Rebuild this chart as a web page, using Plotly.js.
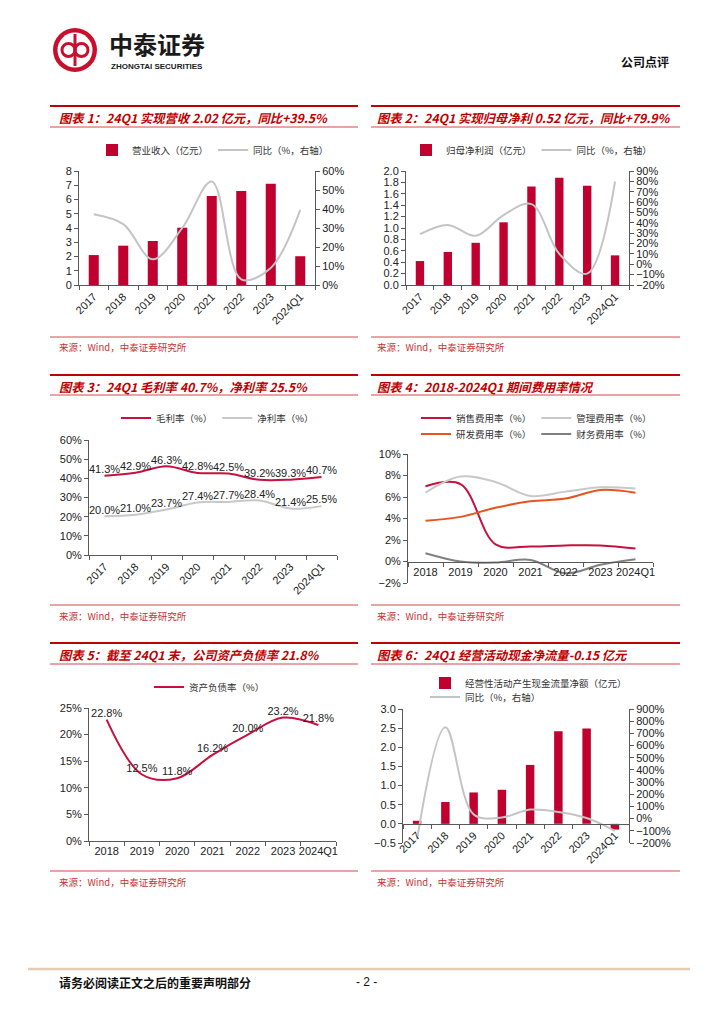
<!DOCTYPE html>
<html><head><meta charset="utf-8">
<script src="https://cdn.plot.ly/plotly-3.0.0.min.js"></script>
<style>html,body{margin:0;padding:0;background:#fff}#chart{width:724px;height:1024px}</style>
</head><body><div id="chart"></div>
<script>
// ---------- data ----------
const years8 = ['2017','2018','2019','2020','2021','2022','2023','2024Q1'];
const years7 = ['2018','2019','2020','2021','2022','2023','2024Q1'];
const revenue = [2.10, 2.76, 3.09, 4.02, 6.25, 6.60, 7.11, 2.02];
const revenueYoY = [37.2, 32.0, 13.5, 30.0, 54.5, 3.0, 9.0, 39.5];
const netProfit = [0.42, 0.58, 0.74, 1.10, 1.73, 1.88, 1.74, 0.52];
const netProfitYoY = [29.0, 38.0, 27.5, 47.5, 58.0, 10.0, -9.0, 79.9];
const grossMargin = [41.3, 42.9, 46.3, 42.8, 42.5, 39.2, 39.3, 40.7];
const grossMarginLabels = ['41.3%', '42.9%', '46.3%', '42.8%', '42.5%', '39.2%', '39.3%', '40.7%'];
const netMargin = [20.2, 21.0, 23.7, 27.4, 27.7, 28.4, 24.2, 25.5];
const netMarginLabels = ['20.0%', '21.0%', '23.7%', '27.4%', '27.7%', '28.4%', '21.4%', '25.5%'];
const salesRate = [7.0, 7.2, 1.6, 1.4, 1.5, 1.5, 1.2];
const adminRate = [6.4, 7.9, 7.4, 6.1, 6.5, 6.9, 6.8];
const rdRate = [3.8, 4.15, 5.0, 5.6, 5.85, 6.65, 6.4];
const finRate = [0.77, 0.0, -0.1, 0.15, -1.1, -0.3, 0.2];
const debtRatio = [22.8, 12.5, 11.8, 16.2, 20.0, 23.2, 21.8];
const debtRatioLabels = ['22.8%', '12.5%', '11.8%', '16.2%', '20.0%', '23.2%', '21.8%'];
const opCashFlow = [0.08, 0.57, 0.82, 0.89, 1.54, 2.42, 2.49, -0.15];
const opCashFlowYoY = [-170, 750, 35, 10, 74, 55, 5, -100];

// ---------- helpers ----------
const W = 724, H = 1024;
const fx = p => p / W;
const fy = p => 1 - p / H;
const CRIMSON = '#C0002F';
const TITLE_RED = '#C00000';
const CJK = 'Noto Sans CJK SC, sans-serif';
const LAT = 'Liberation Sans, Arial, sans-serif';
const tickFont = {family: LAT, size: 11, color: '#222'};
const AX = '#595959';

function xCat(px0, px1, n, extra) {
  return Object.assign({
    domain: [fx(px0), fx(px1)], type: 'category', range: [-0.5, n - 0.5],
    showline: true, linecolor: AX, linewidth: 1, ticks: 'outside', ticklen: 4,
    tickcolor: AX, tickson: 'boundaries', showgrid: false, zeroline: false,
    tickfont: tickFont, fixedrange: true
  }, extra);
}
function yLin(py0, py1, range, dtick, extra) {
  const o = {
    range: range, dtick: dtick, tick0: range[0], showline: true, linecolor: AX, linewidth: 1,
    ticks: 'outside', ticklen: 4, tickcolor: AX, showgrid: false, zeroline: false,
    tickfont: tickFont, fixedrange: true
  };
  if (py0 !== null) o.domain = [fy(py1), fy(py0)];
  return Object.assign(o, extra);
}
function zeroPos(py0, py1, range) {
  const d0 = fy(py1), d1 = fy(py0);
  return d0 + (0 - range[0]) / (range[1] - range[0]) * (d1 - d0);
}

// ---------- traces ----------
const labelFont = {family: LAT, size: 11, color: '#222'};
const traces = [
  // chart 1
  {type: 'bar', x: years8, y: revenue, name: '营业收入（亿元）', marker: {color: CRIMSON}, width: 0.34,
   xaxis: 'x', yaxis: 'y', legend: 'legend'},
  {type: 'scatter', mode: 'lines', x: years8, y: revenueYoY, name: '同比（%，右轴）',
   line: {color: '#C4C4C4', width: 2, shape: 'spline'}, xaxis: 'x', yaxis: 'y2', legend: 'legend'},
  // chart 2
  {type: 'bar', x: years8, y: netProfit, name: '归母净利润（亿元）', marker: {color: CRIMSON}, width: 0.3,
   xaxis: 'x2', yaxis: 'y3', legend: 'legend2'},
  {type: 'scatter', mode: 'lines', x: years8, y: netProfitYoY, name: '同比（%，右轴）',
   line: {color: '#C4C4C4', width: 2, shape: 'spline'}, xaxis: 'x2', yaxis: 'y4', legend: 'legend2'},
  // chart 3
  {type: 'scatter', mode: 'lines+text', x: years8, y: grossMargin, name: '毛利率（%）',
   text: grossMarginLabels, textposition: 'top center', cliponaxis: false, textfont: labelFont,
   line: {color: '#C8103E', width: 2, shape: 'spline'}, xaxis: 'x3', yaxis: 'y5', legend: 'legend3'},
  {type: 'scatter', mode: 'lines+text', x: years8, y: netMargin, name: '净利率（%）',
   text: netMarginLabels, textposition: 'top center', cliponaxis: false, textfont: labelFont,
   line: {color: '#C8C8C8', width: 2, shape: 'spline'}, xaxis: 'x3', yaxis: 'y5', legend: 'legend3'},
  // chart 4
  {type: 'scatter', mode: 'lines', x: years7, y: salesRate, name: '销售费用率（%）',
   line: {color: '#C8103E', width: 2, shape: 'spline'}, xaxis: 'x4', yaxis: 'y6', legend: 'legend4'},
  {type: 'scatter', mode: 'lines', x: years7, y: adminRate, name: '管理费用率（%）',
   line: {color: '#C8C8C8', width: 2, shape: 'spline'}, xaxis: 'x4', yaxis: 'y6', legend: 'legend4'},
  {type: 'scatter', mode: 'lines', x: years7, y: rdRate, name: '研发费用率（%）',
   line: {color: '#E8541E', width: 2, shape: 'spline'}, xaxis: 'x4', yaxis: 'y6', legend: 'legend5'},
  {type: 'scatter', mode: 'lines', x: years7, y: finRate, name: '财务费用率（%）',
   line: {color: '#808080', width: 2, shape: 'spline'}, xaxis: 'x4', yaxis: 'y6', legend: 'legend5'},
  // chart 5
  {type: 'scatter', mode: 'lines+text', x: years7, y: debtRatio, name: '资产负债率（%）',
   text: debtRatioLabels, textposition: 'top center', cliponaxis: false, textfont: labelFont,
   line: {color: '#C8103E', width: 2, shape: 'spline'}, xaxis: 'x5', yaxis: 'y7', legend: 'legend6'},
  // chart 6
  {type: 'bar', x: years8, y: opCashFlow, name: '经营性活动产生现金流量净额（亿元）', marker: {color: CRIMSON}, width: 0.3,
   xaxis: 'x6', yaxis: 'y8', legend: 'legend7'},
  {type: 'scatter', mode: 'lines', x: years8, y: opCashFlowYoY, name: '同比（%，右轴）',
   line: {color: '#C4C4C4', width: 2, shape: 'spline'}, xaxis: 'x6', yaxis: 'y9', legend: 'legend8'}
];

// ---------- axes ----------
const r4 = [-2, 10], r6 = [-0.5, 3];
const layout = {
  width: W, height: H, margin: {l: 0, r: 0, t: 0, b: 0},
  paper_bgcolor: '#fff', plot_bgcolor: 'rgba(0,0,0,0)',
  hovermode: false, barmode: 'group',
  font: {family: CJK, color: '#222'},
  // chart 1
  xaxis: xCat(79, 315, 8, {anchor: 'y', tickangle: -45}),
  yaxis: yLin(171, 285, [0, 8], 1, {anchor: 'x'}),
  yaxis2: yLin(null, null, [0, 60], 10, {overlaying: 'y', side: 'right', anchor: 'x', ticksuffix: '%'}),
  // chart 2
  xaxis2: xCat(406, 629, 8, {anchor: 'y3', tickangle: -45}),
  yaxis3: yLin(171, 285, [0, 2], 0.2, {anchor: 'x2', tickformat: '.1f'}),
  yaxis4: yLin(null, null, [-20, 90], 10, {overlaying: 'y3', side: 'right', anchor: 'x2', ticksuffix: '%'}),
  // chart 3
  xaxis3: xCat(89, 337, 8, {anchor: 'y5', tickangle: -45}),
  yaxis5: yLin(440, 555, [0, 60], 10, {anchor: 'x3', ticksuffix: '%'}),
  // chart 4
  xaxis4: xCat(408, 653, 7, {anchor: 'free', position: zeroPos(454, 583, r4), tickangle: 0}),
  yaxis6: yLin(454, 583, r4, 2, {anchor: 'x4', ticksuffix: '%'}),
  // chart 5
  xaxis5: xCat(89, 336, 7, {anchor: 'y7', tickangle: 0}),
  yaxis7: yLin(708, 841, [0, 25], 5, {anchor: 'x5', ticksuffix: '%'}),
  // chart 6
  xaxis6: xCat(403, 629, 8, {anchor: 'free', position: zeroPos(709, 843, r6), tickangle: -45}),
  yaxis8: yLin(709, 843, r6, 0.5, {anchor: 'x6', tickformat: '.1f'}),
  yaxis9: yLin(null, null, [-200, 900], 100, {overlaying: 'y8', side: 'right', anchor: 'x6', ticksuffix: '%'})
};

// ---------- legends ----------
function leg(px, py) {
  return {x: fx(px), y: fy(py), xanchor: 'left', yanchor: 'middle', orientation: 'h',
          bgcolor: 'rgba(0,0,0,0)', font: {family: CJK, size: 9.5, color: '#333'},
          itemwidth: 30, tracegroupgap: 0, traceorder: 'normal'};
}
layout.legend = leg(92, 150);
layout.legend2 = leg(406, 150);
layout.legend3 = leg(116, 418);
layout.legend4 = leg(416, 418);
layout.legend5 = leg(416, 434);
layout.legend6 = leg(149, 687);
layout.legend7 = leg(425, 683);
layout.legend8 = leg(425, 697);

// ---------- decoration ----------
const shapes = [];
const annotations = [];
function hline(x0, x1, y, color, w) {
  shapes.push({type: 'line', xref: 'paper', yref: 'paper', x0: fx(x0), x1: fx(x1), y0: fy(y), y1: fy(y),
               line: {color: color, width: w}});
}
function txt(text, px, py, font, anchor) {
  annotations.push({text: text, xref: 'paper', yref: 'paper', x: fx(px), y: fy(py),
                    xanchor: anchor || 'left', yanchor: 'middle', showarrow: false, font: font});
}
const titleFont = {family: CJK, size: 12.3, color: TITLE_RED, weight: 'bold', style: 'italic'};
const srcFont = {family: CJK, size: 9.5, color: '#C83232'};
const cols = [[50, 358, 57], [371, 680, 375]];
const rows = [[106, 118, 127, 337, 347], [375, 387, 395, 605, 616], [643, 655, 664, 871, 882]];
const titles = [
  ['图表 1：24Q1 实现营收 2.02 亿元，同比+39.5%', '图表 2：24Q1 实现归母净利 0.52 亿元，同比+79.9%'],
  ['图表 3：24Q1 毛利率 40.7%，净利率 25.5%', '图表 4：2018-2024Q1 期间费用率情况'],
  ['图表 5：截至 24Q1 末，公司资产负债率 21.8%', '图表 6：24Q1 经营活动现金净流量-0.15 亿元']
];
rows.forEach((r, ri) => {
  cols.forEach((c, ci) => {
    hline(c[0], c[1], r[0], '#C00000', 2);
    hline(c[0], c[1], r[2], '#D24B4B', 1);
    hline(c[0], c[1], r[3], '#D24B4B', 1);
    txt(titles[ri][ci], c[2], r[1], titleFont);
    txt('来源：Wind，中泰证券研究所', c[2], r[4], srcFont);
  });
});

// header
shapes.push({type: 'circle', xref: 'paper', yref: 'paper', x0: fx(53), x1: fx(97), y0: fy(72), y1: fy(28),
             fillcolor: '#C8102E', line: {width: 0}});
shapes.push({type: 'circle', xref: 'paper', yref: 'paper', x0: fx(57.5), x1: fx(92.5), y0: fy(67.5), y1: fy(32.5),
             fillcolor: '#fff', line: {width: 0}});
shapes.push({type: 'circle', xref: 'paper', yref: 'paper', x0: fx(62), x1: fx(75), y0: fy(56.5), y1: fy(43.5),
             line: {color: '#C8102E', width: 3}});
shapes.push({type: 'circle', xref: 'paper', yref: 'paper', x0: fx(75), x1: fx(88), y0: fy(56.5), y1: fy(43.5),
             line: {color: '#C8102E', width: 3}});
shapes.push({type: 'line', xref: 'paper', yref: 'paper', x0: fx(75), x1: fx(75), y0: fy(66), y1: fy(34),
             line: {color: '#C8102E', width: 3}});
txt('中泰证券', 157, 43.5, {family: CJK, size: 24, color: '#1a1a1a', weight: 'bold'}, 'center');
txt('ZHONGTAI SECURITIES', 157, 66.5, {family: LAT, size: 8, color: '#1a1a1a', weight: 'bold'}, 'center');
txt('公司点评', 645, 61, {family: CJK, size: 12, color: '#111', weight: 'bold'}, 'center');

// footer
hline(28, 690, 969, '#E8C9B2', 2.5);
txt('请务必阅读正文之后的重要声明部分', 57, 982, {family: CJK, size: 12, color: '#111', weight: 'bold'});
txt('- 2 -', 367, 982, {family: LAT, size: 12, color: '#111'}, 'center');

layout.shapes = shapes;
layout.annotations = annotations;

Plotly.newPlot('chart', traces, layout, {staticPlot: true, displayModeBar: false});
</script>
</body></html>
